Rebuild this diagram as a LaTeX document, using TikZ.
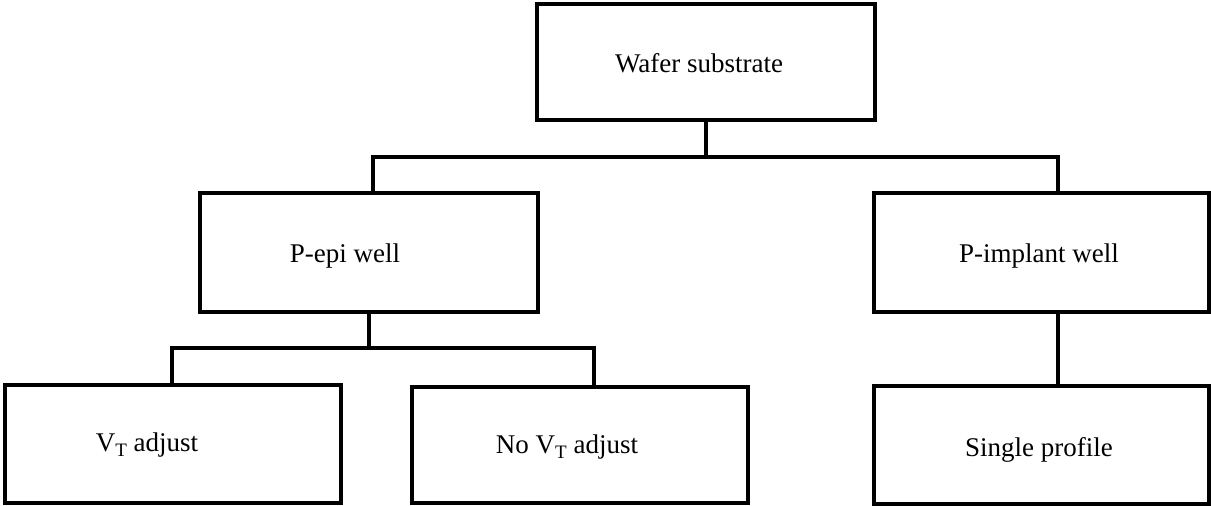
\documentclass[tikz,border=0pt]{standalone}
\usepackage{fontspec}
\setmainfont{Liberation Serif}
\newcommand{\mysubT}{\raisebox{-0.22em}{\fontsize{19}{20}\selectfont T}}
\begin{document}
\begin{tikzpicture}[x=1pt,y=-1pt,
  box/.style={draw=black,line width=4pt,minimum width=336pt,minimum height=118pt,inner sep=0pt,fill=white},
  txt/.style={anchor=base,inner sep=0pt,font=\fontsize{27}{32}\selectfont},
  conn/.style={draw=black,line width=4pt}]
\useasboundingbox (0,0) rectangle (1211,506);
% boxes
\node[box,minimum width=338pt,minimum height=116pt] (wafer) at (706,62) {};
\node[box,minimum width=338pt,minimum height=119pt] (pepi) at (369,252.5) {};
\node[box,minimum width=335pt,minimum height=119pt] (pimp) at (1041.5,252.5) {};
\node[box] (vt) at (173,444) {};
\node[box,minimum height=116pt] (novt) at (580,445) {};
\node[box,minimum width=335pt] (single) at (1041.5,445) {};
% texts
\node[txt] (twafer) at (699,72) {Wafer substrate};
\node[txt] (tpepi) at (345,262) {P-epi well};
\node[txt] (tpimp) at (1039,262) {P-implant well};
\node[txt] (tvt) at (147,451) {V\mysubT\ adjust};
\node[txt] (tnovt) at (567,453) {No V\mysubT\ adjust};
\node[txt] (tsingle) at (1039,456) {Single profile};
% connector levels
\coordinate (bar1) at (0,157);
\coordinate (bar2) at (0,348);
\coordinate (pe) at ([xshift=4pt]pepi.north);
\coordinate (pi) at ([xshift=16pt]pimp.north);
\coordinate (pis) at ([xshift=16pt]pimp.south);
\coordinate (sn) at ([xshift=16pt]single.north);
\coordinate (vn) at ([xshift=-1pt]vt.north);
\coordinate (nn) at ([xshift=14pt]novt.north);
\draw[conn] (wafer.south) -- (wafer.south |- bar1);
\draw[conn] (pe) -- (pe |- bar1) -- (pi |- bar1) -- (pi);
\draw[conn] (pepi.south) -- (pepi.south |- bar2);
\draw[conn] (vn) -- (vn |- bar2) -- (nn |- bar2) -- (nn);
\draw[conn] (pis) -- (sn);
\end{tikzpicture}
\end{document}
